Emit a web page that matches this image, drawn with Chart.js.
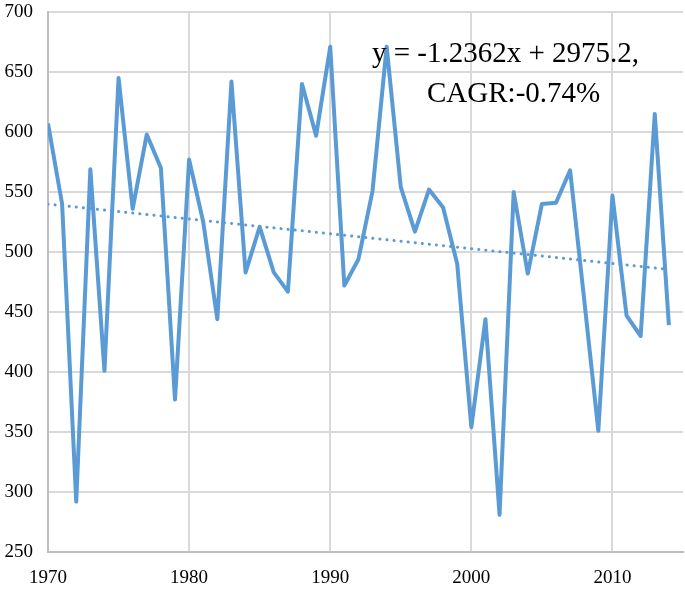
<!DOCTYPE html>
<html>
<head>
<meta charset="utf-8">
<script src="https://cdn.jsdelivr.net/npm/chart.js@4/dist/chart.umd.min.js"></script>
<style>
  html, body { margin: 0; padding: 0; background: #fff; }
  #wrap { width: 685px; height: 589px; }
</style>
</head>
<body>
<div id="wrap"><canvas id="myChart"></canvas></div>
<script>
// años y valores
const anios = [1970, 1971, 1972, 1973, 1974, 1975, 1976, 1977, 1978, 1979,
  1980, 1981, 1982, 1983, 1984, 1985, 1986, 1987, 1988, 1989,
  1990, 1991, 1992, 1993, 1994, 1995, 1996, 1997, 1998, 1999,
  2000, 2001, 2002, 2003, 2004, 2005, 2006, 2007, 2008, 2009,
  2010, 2011, 2012, 2013, 2014];
const valores = [607, 540, 292, 569, 401, 645, 536, 598, 570, 377,
  577, 525, 444, 642, 483, 521, 483, 467, 640, 597,
  671, 472, 494, 551, 671, 554, 517, 552, 537, 490,
  354, 444, 281, 550, 482, 540, 541, 568, 460, 351,
  547, 447, 430, 615, 439];

// linea de tendencia (extremos)
const aniosTendencia = [1970, 2014];
const valoresTendencia = [539.9, 485.5];

// ticks de los ejes
const ticksX = [1970, 1980, 1990, 2000, 2010];
const ticksY = [250, 300, 350, 400, 450, 500, 550, 600, 650, 700];

const textoEcuacion = "y = -1.2362x + 2975.2,";
const textoCagr = "CAGR:-0.74%";

const azul = "#5B9BD5";
const fuente = "'Liberation Serif', 'Times New Roman', serif";

// plugin para escribir la ecuacion
const etiquetaEcuacion = {
  id: "etiquetaEcuacion",
  afterDatasetsDraw(chart) {
    const ctx = chart.ctx;
    ctx.save();
    ctx.fillStyle = "#000";
    ctx.font = "29px " + fuente;
    ctx.textAlign = "left";
    ctx.textBaseline = "alphabetic";
    ctx.fillText(textoEcuacion, 372, 62);
    ctx.fillText(textoCagr, 427, 102);
    ctx.restore();
  }
};

const config = {
  type: "line",
  data: {
    datasets: [{
      label: "valor",
      data: anios.map((a, i) => ({ x: a, y: valores[i] })),
      borderColor: azul,
      borderWidth: 4,
      pointRadius: 0,
      tension: 0,
      borderJoinStyle: "round"
    }, {
      label: "tendencia",
      data: aniosTendencia.map((a, i) => ({ x: a, y: valoresTendencia[i] })),
      borderColor: azul,
      borderWidth: 3,
      borderDash: [0.1, 7],
      borderCapStyle: "round",
      pointRadius: 0
    }]
  },
  options: {
    responsive: true,
    maintainAspectRatio: false,
    animation: false,
    layout: { padding: { top: 0, right: 2, left: 0, bottom: 0 } },
    plugins: {
      legend: { display: false },
      tooltip: { enabled: false }
    },
    scales: {
      x: {
        type: "linear",
        min: 1970,
        max: 2015,
        afterBuildTicks: (scale) => {
          scale.ticks = ticksX.map(v => ({ value: v }));
        },
        afterFit: (scale) => {
          scale.height = 37;
          scale.paddingRight = 0;
        },
        grid: { color: "#d9d9d9", lineWidth: 2, drawTicks: false },
        border: { color: "#bfbfbf", width: 2 },
        ticks: {
          color: "#000",
          padding: 15,
          maxRotation: 0,
          font: { family: fuente, size: 19 },
          callback: (v) => String(v)
        }
      },
      y: {
        min: 250,
        max: 700,
        afterBuildTicks: (scale) => {
          scale.ticks = ticksY.map(v => ({ value: v }));
        },
        afterFit: (scale) => {
          scale.width = 48;
          scale.paddingTop = 12;
          scale.paddingBottom = 0;
        },
        grid: { color: "#d9d9d9", lineWidth: 2, drawTicks: false },
        border: { color: "#bfbfbf", width: 2 },
        ticks: {
          color: "#000",
          padding: 15,
          font: { family: fuente, size: 19 }
        }
      }
    }
  },
  plugins: [etiquetaEcuacion]
};

const chartDOM = document.getElementById("myChart");
new Chart(chartDOM, config);
</script>
</body>
</html>
